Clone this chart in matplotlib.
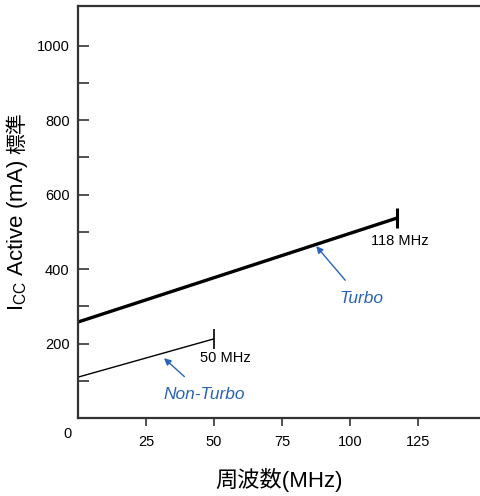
import matplotlib.pyplot as plt

plt.rcParams['font.family'] = ['Liberation Sans', 'Noto Sans CJK JP']

# data
turbo_mhz = [0, 117]
turbo_ma = [258, 537]
nonturbo_mhz = [0, 50]
nonturbo_ma = [110, 213]
y_major = [200, 400, 600, 800, 1000]
y_minor = [100, 300, 500, 700, 900]
x_ticks = [25, 50, 75, 100, 125]

blue = '#2a64b4'
spine_c = '#333333'

fig = plt.figure(figsize=(4.81, 4.96), dpi=100)
ax = fig.add_axes([0.162, 0.157, 0.838, 0.831])

ax.plot(turbo_mhz, turbo_ma, color='black', lw=2.4, marker='|', markersize=15,
        markeredgewidth=2.2, markevery=[1], solid_capstyle='butt')
ax.plot(nonturbo_mhz, nonturbo_ma, color='black', lw=1.0, marker='|', markersize=15,
        markeredgewidth=1.2, markevery=[1], solid_capstyle='butt')

ax.set_xlim(0, 148)
ax.set_ylim(0, 1107)

ax.set_yticks(y_major)
ax.set_yticks(y_minor, minor=True)
ax.set_xticks(x_ticks)
ax.tick_params(axis='y', which='both', direction='in', length=8, width=1.2,
               color=spine_c, labelsize=10.5, pad=6)
ax.tick_params(axis='x', direction='out', length=6, width=1.2,
               color=spine_c, labelsize=10.5, pad=6)

for s in ['left', 'bottom', 'top']:
    ax.spines[s].set_color(spine_c)
    ax.spines[s].set_linewidth(1.6)
ax.spines['right'].set_visible(False)

ax.text(-0.015, -0.039, '0', transform=ax.transAxes, fontsize=10.5,
        ha='right', va='center')

ax.text(107.5, 476, '118 MHz', fontsize=10.5, ha='left', va='center')
ax.text(45, 161, '50 MHz', fontsize=10.5, ha='left', va='center')

ax.annotate('Turbo', xy=(87.5, 462), xytext=(104, 320), color=blue,
            fontsize=12.5, style='italic', ha='center', va='center',
            arrowprops=dict(arrowstyle='-|>', color=blue, lw=1.0,
                            shrinkA=8, shrinkB=0, mutation_scale=10))
ax.annotate('Non-Turbo', xy=(31.6, 161), xytext=(46.3, 64), color=blue,
            fontsize=12.5, style='italic', ha='center', va='center',
            arrowprops=dict(arrowstyle='-|>', color=blue, lw=1.0,
                            shrinkA=8, shrinkB=0, mutation_scale=10))

ax.set_xlabel('周波数(MHz)', fontsize=16, labelpad=14)

# y label: mathtext part, then the CJK part placed right after it
ylab = ax.text(-0.149, 0.26, r'I$_{\mathregular{CC}}$ Active (mA)', transform=ax.transAxes,
               fontsize=16, rotation=90, ha='center', va='bottom')
ax.annotate('標準', xy=(0.5, 1.0), xycoords=ylab, xytext=(0, 4),
            textcoords='offset points', fontsize=15, rotation=90,
            ha='center', va='bottom')

fig.savefig('out.png', dpi=100)
